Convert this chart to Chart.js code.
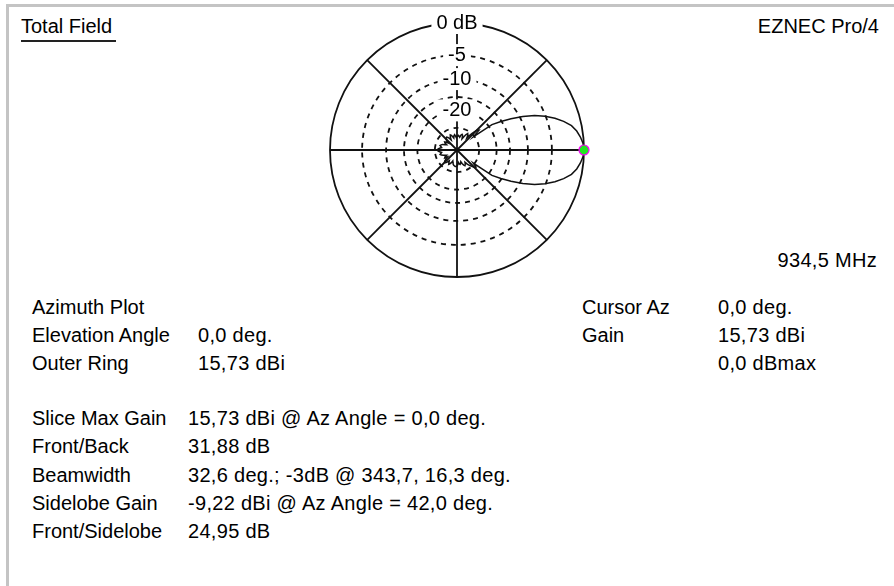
<!DOCTYPE html>
<html>
<head>
<meta charset="utf-8">
<script src="https://cdn.jsdelivr.net/npm/chart.js@4.4.1/dist/chart.umd.min.js"></script>
<style>
  html, body { margin: 0; padding: 0; background: #fff; }
  body { width: 894px; height: 586px; position: relative; overflow: hidden;
         font-family: "Liberation Sans", Arial, sans-serif; font-size: 20px; color: #000; }
  .frame { position: absolute; left: 6px; top: 4px; right: 0; bottom: 0;
           border-top: 3px solid #c4c4c4; border-left: 3px solid #c4c4c4; }
  .t { position: absolute; line-height: 20px; white-space: nowrap; }
  .v { letter-spacing: 0.3px; }
  .ul { position: absolute; left: 21px; top: 40px; width: 95px; height: 2px; background: #222; }
  #plot { position: absolute; left: 309px; top: 2px; }
</style>
</head>
<body>
<div class="frame"></div>

<div class="t" style="left:21px; top:16px;">Total Field</div>
<div class="ul"></div>
<div class="t" style="right:15px; top:16px;">EZNEC Pro/4</div>
<div class="t v" style="right:17px; top:250px;">934,5 MHz</div>

<div class="t" style="left:32px; top:297px;">Azimuth Plot</div>
<div class="t" style="left:32px; top:325px;">Elevation Angle</div>
<div class="t v" style="left:198px; top:325px;">0,0 deg.</div>
<div class="t" style="left:32px; top:353px;">Outer Ring</div>
<div class="t v" style="left:198px; top:353px;">15,73 dBi</div>

<div class="t" style="left:582px; top:297px;">Cursor Az</div>
<div class="t v" style="left:718px; top:297px;">0,0 deg.</div>
<div class="t" style="left:582px; top:325px;">Gain</div>
<div class="t v" style="left:718px; top:325px;">15,73 dBi</div>
<div class="t v" style="left:718px; top:353px;">0,0 dBmax</div>

<div class="t" style="left:32px; top:408px;">Slice Max Gain</div>
<div class="t v" style="left:188px; top:408px;">15,73 dBi @ Az Angle = 0,0 deg.</div>
<div class="t" style="left:32px; top:436px;">Front/Back</div>
<div class="t v" style="left:188px; top:436px;">31,88 dB</div>
<div class="t" style="left:32px; top:465px;">Beamwidth</div>
<div class="t v" style="left:188px; top:465px;">32,6 deg.; -3dB @ 343,7, 16,3 deg.</div>
<div class="t" style="left:32px; top:493px;">Sidelobe Gain</div>
<div class="t v" style="left:188px; top:493px;">-9,22 dBi @ Az Angle = 42,0 deg.</div>
<div class="t" style="left:32px; top:521px;">Front/Sidelobe</div>
<div class="t v" style="left:188px; top:521px;">24,95 dB</div>

<canvas id="plot" width="296" height="296"></canvas>

<script>
// azimuth in degrees, counter-clockwise from the +x axis (EZNEC convention)
const azimuthDeg = [
  0, 3, 6, 9, 12, 15, 18, 21, 24, 27,
  30, 33, 36, 39, 42, 45, 48, 51, 54, 57,
  60, 63, 66, 69, 72, 75, 78, 81, 84, 87,
  90, 93, 96, 99, 102, 105, 108, 111, 114, 117,
  120, 123, 126, 129, 132, 135, 138, 141, 144, 147,
  150, 153, 156, 159, 162, 165, 168, 171, 174, 177,
  180, 183, 186, 189, 192, 195, 198, 201, 204, 207,
  210, 213, 216, 219, 222, 225, 228, 231, 234, 237,
  240, 243, 246, 249, 252, 255, 258, 261, 264, 267,
  270, 273, 276, 279, 282, 285, 288, 291, 294, 297,
  300, 303, 306, 309, 312, 315, 318, 321, 324, 327,
  330, 333, 336, 339, 342, 345, 348, 351, 354, 357
];

// gain relative to the outer ring (15,73 dBi), dB
const gainDb = [
  0, -0.1, -0.4, -0.8, -1.4, -2.4, -3.6, -5.1, -6.9, -9.3,
  -12.2, -15.2, -18.5, -31, -24.95, -26, -30, -36, -33, -32,
  -34, -37, -40, -36, -35, -36, -39, -38, -37, -38,
  -38, -40, -38, -36, -37, -40, -38, -36, -35, -37,
  -41, -38, -36, -35, -35.5, -36, -38, -42, -39, -37,
  -38, -41, -39, -36, -35, -34, -35, -36, -34, -32.5,
  -31.88, -32.5, -34, -36, -35, -34, -35, -37, -39, -41,
  -38, -37, -41, -38, -35, -34, -34.5, -36, -39, -37,
  -35, -36, -38, -41, -39, -37, -36, -35.5, -35, -35,
  -35.5, -37, -40, -38, -37, -38, -40, -37, -35, -34,
  -35, -37, -34, -32, -30, -28, -27.5, -31, -18.5, -15.2,
  -12.2, -9.3, -6.9, -5.1, -3.6, -2.4, -1.4, -0.8, -0.4, -0.1
];

const ringDb = [-30, -20, -15, -10, -5, 0];
const ringLabels = ['', '-20', '', '-10', '-5', '0 dB'];
const cursorAz = 0;

// ARRL log scale: every 2 dB down is 0.89 of the radius
const arrl = db => Math.pow(0.89, -db / 2);

// radar goes clockwise from the top, EZNEC counter-clockwise from the right
const n = azimuthDeg.length;
const topIdx = azimuthDeg.indexOf(90);
const order = azimuthDeg.map((_, i) => (topIdx - i + n) % n);

new Chart(document.getElementById('plot'), {
  type: 'radar',
  data: {
    labels: order.map(k => azimuthDeg[k]),
    datasets: [
      {
        data: order.map(k => azimuthDeg[k] === cursorAz ? arrl(gainDb[k]) : null),
        showLine: false,
        pointRadius: 5,
        pointBackgroundColor: '#22e622',
        pointBorderColor: '#ff00ff',
        pointBorderWidth: 1.2
      },
      {
        data: order.map(k => arrl(gainDb[k])),
        borderColor: '#111',
        borderWidth: 1.5,
        pointRadius: 0,
        fill: false,
        tension: 0
      }
    ]
  },
  options: {
    responsive: false,
    devicePixelRatio: 1,
    animation: false,
    events: [],
    layout: { padding: 10 },
    plugins: { legend: { display: false }, tooltip: { enabled: false } },
    scales: {
      r: {
        min: 0,
        max: 1,
        startAngle: 0,
        afterBuildTicks: s => {
          s.ticks = [{ value: 0 }, ...ringDb.map(d => ({ value: arrl(d) }))];
        },
        ticks: {
          callback: (v, i) => i === 0 ? '' : ringLabels[i - 1],
          font: { family: 'Liberation Sans', size: 20 },
          color: '#000',
          backdropColor: c => c.tick && c.tick.label ? '#fff' : 'rgba(0,0,0,0)',
          backdropPadding: { x: 5, y: 1 }
        },
        grid: { circular: true, color: '#111', lineWidth: 1.8 },
        border: { dash: c => c.index === ringDb.length ? [] : [5, 5] },
        angleLines: {
          color: '#111',
          lineWidth: c => azimuthDeg[order[c.index]] % 45 === 0 ? 1.8 : 0
        },
        pointLabels: { display: false }
      }
    }
  }
});
</script>
</body>
</html>
